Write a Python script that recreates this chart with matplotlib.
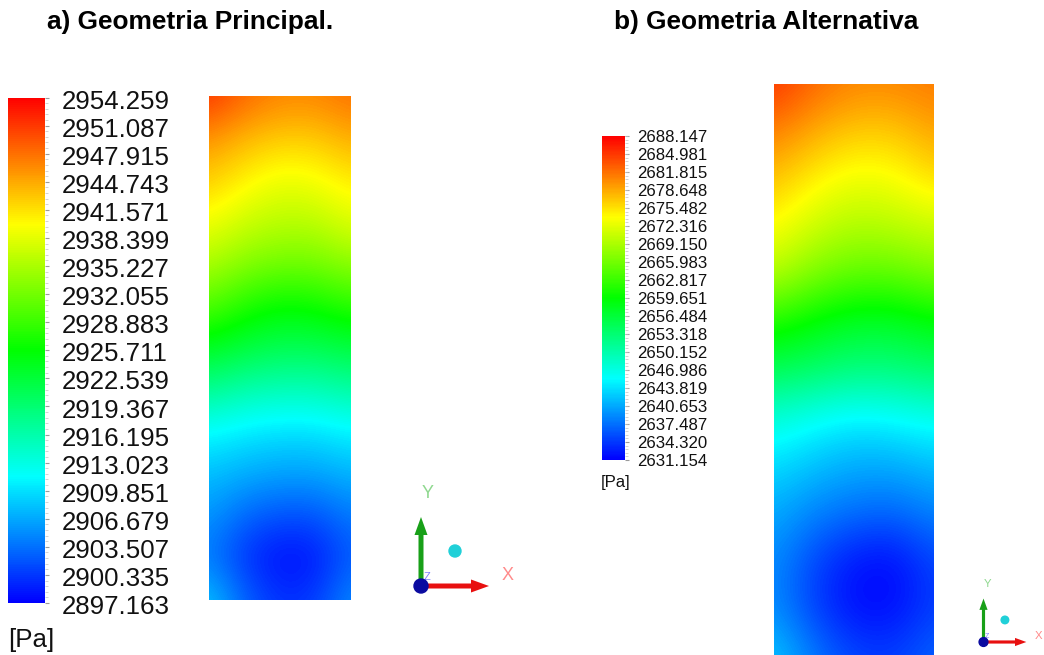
import numpy as np
import matplotlib.pyplot as plt
from matplotlib.colors import LinearSegmentedColormap, Normalize
from matplotlib.patches import Circle
from matplotlib.ticker import AutoMinorLocator

plt.rcParams['font.family'] = ['Liberation Sans', 'DejaVu Sans']

W, H = 1044, 655

# colour legend labels [Pa]
labels_a = ["2954.259", "2951.087", "2947.915", "2944.743", "2941.571", "2938.399",
            "2935.227", "2932.055", "2928.883", "2925.711", "2922.539", "2919.367",
            "2916.195", "2913.023", "2909.851", "2906.679", "2903.507", "2900.335",
            "2897.163"]
labels_b = ["2688.147", "2684.981", "2681.815", "2678.648", "2675.482", "2672.316",
            "2669.150", "2665.983", "2662.817", "2659.651", "2656.484", "2653.318",
            "2650.152", "2646.986", "2643.819", "2640.653", "2637.487", "2634.320",
            "2631.154"]

# pressure, top row first, 5 columns left -> right
field_a = [
    [2951.5, 2948.5, 2946.8, 2946.8, 2948.0],
    [2946.0, 2944.0, 2942.8, 2942.8, 2944.6],
    [2942.8, 2940.6, 2938.8, 2939.4, 2941.1],
    [2939.4, 2937.1, 2936.0, 2936.0, 2938.3],
    [2935.4, 2933.1, 2932.0, 2932.0, 2933.7],
    [2930.3, 2927.4, 2925.7, 2926.3, 2928.0],
    [2924.0, 2922.3, 2921.1, 2921.1, 2922.3],
    [2917.7, 2916.0, 2915.4, 2915.4, 2916.6],
    [2911.4, 2910.3, 2909.7, 2909.7, 2910.9],
    [2908.0, 2906.9, 2906.3, 2906.3, 2907.4],
    [2905.7, 2902.9, 2901.7, 2901.7, 2904.0],
    [2904.0, 2900.0, 2897.7, 2898.3, 2902.3],
    [2908.6, 2902.9, 2900.0, 2900.6, 2905.2],
]
field_b = [
    [2685.4, 2682.4, 2680.7, 2680.7, 2681.3],
    [2681.0, 2678.5, 2676.7, 2676.7, 2679.0],
    [2677.3, 2674.5, 2672.8, 2673.3, 2675.6],
    [2673.9, 2671.0, 2669.3, 2669.9, 2671.0],
    [2669.9, 2666.5, 2664.8, 2664.8, 2666.5],
    [2661.4, 2659.1, 2657.4, 2657.4, 2659.1],
    [2655.1, 2654.0, 2652.8, 2652.8, 2654.0],
    [2647.7, 2646.0, 2644.8, 2645.4, 2646.5],
    [2643.7, 2642.0, 2640.8, 2640.8, 2642.0],
    [2640.8, 2638.6, 2637.4, 2636.9, 2638.6],
    [2639.1, 2635.1, 2632.3, 2631.7, 2635.1],
    [2639.1, 2634.6, 2631.7, 2631.7, 2634.6],
    [2642.6, 2638.0, 2635.1, 2634.6, 2636.9],
]

rainbow = LinearSegmentedColormap.from_list(
    'ansys', ['#0000ff', '#00ffff', '#00ff00', '#ffff00', '#ff0000'])

fig = plt.figure(figsize=(W / 100, H / 100), dpi=100)


def px_axes(x0, y0, x1, y1):
    # axes placed in pixel coordinates (origin top-left)
    return fig.add_axes([x0 / W, 1 - y1 / H, (x1 - x0) / W, (y1 - y0) / H])


def legend_bar(box, labels, fs, pad, dy):
    vals = [float(s) for s in labels]
    cax = px_axes(*box)
    sm = plt.cm.ScalarMappable(norm=Normalize(vals[-1], vals[0]), cmap=rainbow)
    cb = fig.colorbar(sm, cax=cax)
    cb.outline.set_visible(False)
    cb.set_ticks(vals)
    cax.set_yticklabels([])
    cax.yaxis.set_minor_locator(AutoMinorLocator(5))
    cax.tick_params(which='major', length=3, width=0.8, color='#9a9a9a')
    cax.tick_params(which='minor', length=2, width=0.5, color='#c0c0c0')
    for v, s in zip(vals, labels):
        cax.annotate(s, xy=(1, v), xycoords=cax.get_yaxis_transform(),
                     xytext=(pad, dy), textcoords='offset points',
                     ha='left', va='center', fontsize=fs, color='#111111')


def contour(box, grid, labels):
    vals = [float(s) for s in labels]
    ax = px_axes(*box)
    g = np.array(grid)
    nr, nc = g.shape
    hx, hy = 0.5 / (nc - 1), 0.5 / (nr - 1)
    ax.imshow(g, cmap=rainbow, vmin=vals[-1], vmax=vals[0], aspect='auto',
              interpolation='bicubic', origin='upper',
              extent=(-hx, 1 + hx, -hy, 1 + hy))
    ax.set_xlim(0, 1)
    ax.set_ylim(0, 1)
    ax.axis('off')


legend_bar((8, 97.5, 45, 603), labels_a, 18.6, 12, -3)
contour((209, 96, 351, 600), field_a, labels_a)
legend_bar((602, 136, 625, 460), labels_b, 12.1, 8.5, -1)
contour((774, 84, 934, 655), field_b, labels_b)

# overlay in pixel units for titles, units and axis triads
ov = fig.add_axes([0, 0, 1, 1])
ov.set_xlim(0, W)
ov.set_ylim(H, 0)
ov.axis('off')

ov.text(190, 22, "a) Geometria Principal.", ha='center', va='center',
        fontsize=18.9, fontweight='bold')
ov.text(766, 22, "b) Geometria Alternativa", ha='center', va='center',
        fontsize=18.9, fontweight='bold')
ov.text(8, 640, "[Pa]", ha='left', va='center', fontsize=18.6, color='#111111')
ov.text(601, 483, "[Pa]", ha='left', va='center', fontsize=12.1, color='#111111')


def triad(ox, oy, s):
    ov.arrow(ox, oy, 0, -69 * s, width=5 * s, head_width=13 * s, head_length=18 * s,
             length_includes_head=True, color='#18a018', lw=0)
    ov.arrow(ox, oy, 68 * s, 0, width=5 * s, head_width=13 * s, head_length=18 * s,
             length_includes_head=True, color='#e81010', lw=0)
    ov.add_patch(Circle((ox, oy), 7 * s, color='#0a0aa0', zorder=5))
    ov.add_patch(Circle((ox + 34 * s, oy - 35 * s), 6 * s, color='#20d0d8', zorder=5))
    ov.text(ox + 7 * s, oy - 92 * s, "Y", ha='center', va='center',
            fontsize=13 * s, color='#8fd88f')
    ov.text(ox + 87 * s, oy - 10 * s, "X", ha='center', va='center',
            fontsize=13 * s, color='#ff8a8a')
    ov.text(ox + 6 * s, oy - 9 * s, "Z", ha='center', va='center',
            fontsize=8 * s, color='#8080ff')


triad(421, 586, 1.0)
triad(983.5, 642, 0.63)

fig.savefig('out.png', dpi=100)
